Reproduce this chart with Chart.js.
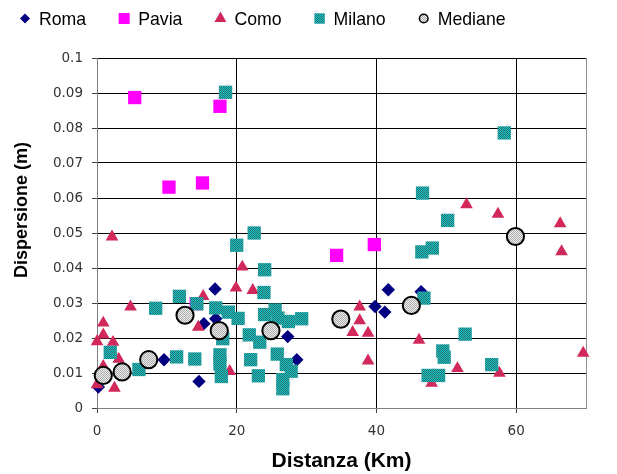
<!DOCTYPE html>
<html>
<head>
<meta charset="utf-8">
<script src="https://cdn.jsdelivr.net/npm/chart.js@4/dist/chart.umd.min.js"></script>
<style>
  html, body { margin: 0; padding: 0; background: #fff; }
  #wrap { width: 617px; height: 474px; }
</style>
</head>
<body>
<div id="wrap"><canvas id="c" width="617" height="474"></canvas></div>
<script>
// Dispersione misurata in funzione della distanza, per città
const seriesNames = ['Roma', 'Pavia', 'Como', 'Milano', 'Mediane'];

const romaDist = [0.2, 9.6, 14.6, 15.3, 16.9, 17.0, 27.3, 28.6, 39.8, 41.2, 41.7, 46.4];
const romaDisp = [0.0060, 0.0138, 0.0076, 0.0241, 0.0340, 0.0255, 0.0204, 0.0138, 0.0290, 0.0274, 0.0338, 0.0332];

const paviaDist = [5.4, 17.6, 10.3, 15.1, 14.2, 34.3, 39.7];
const paviaDisp = [0.0887, 0.0862, 0.0631, 0.0643, 0.0298, 0.0436, 0.0467];

const comoDist = [2.15, 4.8, 0.9, 0.9, 0.0, 2.3, 3.1, 0.9, 0.0, 2.5, 15.2, 14.5, 20.8, 19.9, 22.3, 19.0,
                  37.6, 37.6, 36.6, 38.8, 38.8, 46.1, 47.9, 51.6, 57.6, 52.9, 57.4, 66.3, 66.5, 69.6];
const comoDisp = [0.0489, 0.0289, 0.0243, 0.0209, 0.0190, 0.0188, 0.0140, 0.0119, 0.0067, 0.0057, 0.0319, 0.0231, 0.0403, 0.0343, 0.0336, 0.0105,
                  0.0289, 0.0250, 0.0216, 0.0214, 0.0135, 0.0194, 0.0071, 0.0113, 0.0100, 0.0581, 0.0554, 0.0527, 0.0447, 0.0157];

const milanoDist = [18.4, 58.3, 46.6, 50.2, 22.5, 20.0, 48.0, 46.5, 24.0, 23.9, 11.8, 46.8, 14.3, 8.4, 17.0, 18.8,
                    25.5, 24.0, 20.2, 25.9, 27.4, 29.3, 52.7, 21.8, 23.3, 18.0, 1.9, 25.8, 17.6, 49.5, 11.4, 14.0,
                    22.0, 49.7, 17.6, 27.1, 56.5, 6.0, 27.8, 17.8, 23.1, 26.6, 47.4, 48.9, 26.6];
const milanoDisp = [0.0902, 0.0786, 0.0614, 0.0536, 0.0500, 0.0465, 0.0457, 0.0446, 0.0395, 0.0330, 0.0319, 0.0314, 0.0298, 0.0285, 0.0286, 0.0274,
                    0.0280, 0.0267, 0.0256, 0.0257, 0.0247, 0.0255, 0.0211, 0.0209, 0.0188, 0.0198, 0.0159, 0.0154, 0.0152, 0.0163, 0.0146, 0.0140,
                    0.0138, 0.0145, 0.0126, 0.0124, 0.0124, 0.0110, 0.0105, 0.0090, 0.0092, 0.0081, 0.0093, 0.0093, 0.0055];

const medianeDist = [0.9, 3.6, 7.4, 12.6, 17.5, 24.9, 34.9, 45.0, 59.9];
const medianeDisp = [0.0093, 0.0103, 0.0138, 0.0265, 0.0221, 0.0221, 0.0254, 0.0293, 0.0490];

const xTickLabels = ['0', '20', '40', '60'];
const yTickLabels = ['0', '0.01', '0.02', '0.03', '0.04', '0.05', '0.06', '0.07', '0.08', '0.09', '0.1'];
const xTitle = 'Distanza (Km)';
const yTitle = 'Dispersione (m)';

function pairs(xs, ys) { return xs.map((x, i) => ({ x: x, y: ys[i] })); }

// two-tone dithered fill
function dither(a, b) {
  const c = document.createElement('canvas');
  c.width = 2; c.height = 2;
  const g = c.getContext('2d');
  g.fillStyle = a; g.fillRect(0, 0, 2, 2);
  g.fillStyle = b; g.fillRect(0, 0, 1, 1); g.fillRect(1, 1, 1, 1);
  return g.createPattern(c, 'repeat');
}

const comoFill = dither('#FF1E46', '#A8326E');
const milanoFill = dither('#10C8C8', '#2E6E6E');
const medianeFill = dither('#EDEDED', '#ADADAD');

function marker(ctx, style, x, y, r, fill, stroke, bw) {
  ctx.beginPath();
  if (style === 'rect') {
    const s = r * Math.SQRT1_2;
    ctx.rect(x - s, y - s, 2 * s, 2 * s);
  } else if (style === 'rectRot') {
    ctx.moveTo(x, y - r); ctx.lineTo(x + r, y); ctx.lineTo(x, y + r); ctx.lineTo(x - r, y); ctx.closePath();
  } else if (style === 'triangle') {
    let a = 0;
    ctx.moveTo(x + Math.sin(a) * r, y - Math.cos(a) * r);
    a += 2 * Math.PI / 3;
    ctx.lineTo(x + Math.sin(a) * r, y - Math.cos(a) * r);
    a += 2 * Math.PI / 3;
    ctx.lineTo(x + Math.sin(a) * r, y - Math.cos(a) * r);
    ctx.closePath();
  } else {
    ctx.arc(x, y, r, 0, Math.PI * 2);
  }
  ctx.fillStyle = fill;
  ctx.fill();
  if (bw > 0) { ctx.lineWidth = bw; ctx.strokeStyle = stroke; ctx.stroke(); }
}

// legend row, right frame edge and axis titles
const decor = {
  id: 'decor',
  beforeDatasetsDraw(chart) {
    const { ctx, chartArea } = chart;
    ctx.save();
    ctx.strokeStyle = '#8c8c8c';
    ctx.lineWidth = 1;
    ctx.beginPath();
    ctx.moveTo(Math.round(chartArea.right) + 0.5, chartArea.top);
    ctx.lineTo(Math.round(chartArea.right) + 0.5, chartArea.bottom + 0.5);
    ctx.stroke();
    ctx.restore();
  },
  afterDraw(chart) {
    const { ctx, chartArea } = chart;
    ctx.save();
    // legend
    ctx.font = '17.7px "Liberation Sans", Arial, sans-serif';
    ctx.textBaseline = 'alphabetic';
    ctx.textAlign = 'left';
    let cx = 25;
    chart.data.datasets.forEach(ds => {
      marker(ctx, ds.pointStyle, cx, 18.5, ds.legendRadius, ds.backgroundColor,
             ds.borderColor, ds.legendBorder || 0);
      const tx = cx + 14;
      ctx.fillStyle = '#000';
      ctx.fillText(ds.label, tx, 25);
      cx = tx + ctx.measureText(ds.label).width + 38;
    });
    // x title
    ctx.font = 'bold 21px "Liberation Sans", Arial, sans-serif';
    ctx.textAlign = 'center';
    ctx.textBaseline = 'middle';
    ctx.fillText(xTitle, (chartArea.left + chartArea.right) / 2, 461);
    // y title
    ctx.font = 'bold 18px "Liberation Sans", Arial, sans-serif';
    ctx.translate(22, 210);
    ctx.rotate(-Math.PI / 2);
    ctx.fillText(yTitle, 0, 0);
    ctx.restore();
  }
};

const tickFont = { family: '"DejaVu Sans", sans-serif', size: 13.5 };

new Chart(document.getElementById('c'), {
  type: 'scatter',
  data: {
    datasets: [
      { label: seriesNames[0], data: pairs(romaDist, romaDisp), pointStyle: 'rectRot', pointRadius: 6.7,
        backgroundColor: '#000080', borderColor: '#000080', borderWidth: 0, order: 5, legendRadius: 5 },
      { label: seriesNames[1], data: pairs(paviaDist, paviaDisp), pointStyle: 'rect', pointRadius: 9.4,
        backgroundColor: '#FF00FF', borderColor: '#FF00FF', borderWidth: 0, order: 4, legendRadius: 7.8 },
      { label: seriesNames[2], data: pairs(comoDist, comoDisp), pointStyle: 'triangle', pointRadius: 7.3,
        backgroundColor: comoFill, borderColor: comoFill, borderWidth: 0, order: 3, legendRadius: 6.9 },
      { label: seriesNames[3], data: pairs(milanoDist, milanoDisp), pointStyle: 'rect', pointRadius: 9.4,
        backgroundColor: milanoFill, borderColor: milanoFill, borderWidth: 0, order: 2, legendRadius: 7.4 },
      { label: seriesNames[4], data: pairs(medianeDist, medianeDisp), pointStyle: 'circle', pointRadius: 8.6,
        backgroundColor: medianeFill, borderColor: '#000', borderWidth: 2, order: 1, legendRadius: 4.3, legendBorder: 1.5 }
    ].map(d => Object.assign(d, { clip: false, pointHoverRadius: d.pointRadius }))
  },
  options: {
    responsive: false,
    animation: false,
    events: [],
    layout: { padding: { top: 58, right: 31, bottom: 0, left: 0 } },
    plugins: { legend: { display: false }, tooltip: { enabled: false }, title: { display: false } },
    scales: {
      x: {
        type: 'linear', min: 0, max: 70,
        afterBuildTicks: s => { s.ticks = xTickLabels.map(t => ({ value: Number(t) })); },
        afterFit: s => { s.height = 66; },
        ticks: { callback: (v, i) => xTickLabels[i], font: tickFont, color: '#333', padding: 10,
                 maxRotation: 0, autoSkip: false },
        grid: { color: c => (c.tick && c.tick.value === 0) ? 'rgba(0,0,0,0)' : '#000',
                lineWidth: 1, tickLength: 5, tickColor: '#404040' },
        border: { color: '#808080' }
      },
      y: {
        type: 'linear', min: 0, max: 0.1,
        afterFit: s => { s.width = 97; },
        ticks: { stepSize: 0.01, callback: (v, i) => yTickLabels[i], font: tickFont, color: '#333', padding: 9,
                 autoSkip: false },
        grid: { color: c => (c.tick && c.tick.value === 0) ? 'rgba(0,0,0,0)' : '#000',
                lineWidth: 1, tickLength: 5, tickColor: '#404040' },
        border: { color: '#808080' }
      }
    }
  },
  plugins: [decor]
});
</script>
</body>
</html>
